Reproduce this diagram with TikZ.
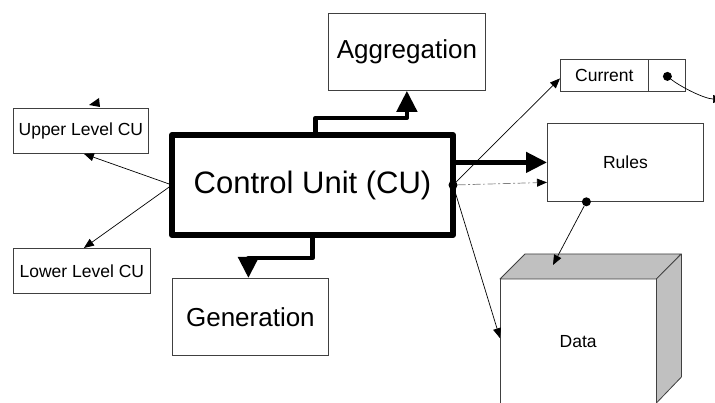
\documentclass[tikz,border=0pt]{standalone}
\usepackage{fontspec}
\setmainfont{Liberation Sans}
\usetikzlibrary{arrows.meta}
\definecolor{edge}{HTML}{404040}
\definecolor{shade}{HTML}{C0C0C0}
\newcommand{\fsz}[1]{\fontsize{#1}{#1}\selectfont}
\begin{document}
\begin{tikzpicture}[x=1pt,y=-1pt,
  box/.style={draw=edge, line width=0.8pt, fill=white, anchor=north west, inner sep=0pt, align=center},
  cubox/.style={draw=black, line width=6pt, line join=round, anchor=north west, inner sep=0pt, outer sep=0pt},
  thin arrow/.style={draw=black, line width=0.7pt, -{Triangle[length=10pt,width=8pt]}},
  bigarrow/.style={draw=black, line width=4.5pt, line join=round, -{Triangle[length=21pt,width=20pt]}},
  dashline/.style={draw=gray, line width=0.7pt, dash pattern=on 8pt off 2.5pt on 2pt off 2.5pt,
     -{Triangle[length=10pt,width=8pt,fill=black,color=black]}},
  dot/.style={circle, fill=black, inner sep=0pt, minimum size=9pt}]
\useasboundingbox (0,0) rectangle (715,403);
\fill[white] (0,0) rectangle (715,403);

% main boxes
\node[cubox, minimum width=281pt, minimum height=100pt] (cu) at (172,135) {\fsz{31}Control Unit (CU)};
\node[box, minimum width=135pt, minimum height=45pt] (upper) at (13,108) {\fsz{17.5}Upper Level CU};
\node[box, minimum width=137pt, minimum height=45pt] (lower) at (13,248) {\fsz{17.5}Lower Level CU};
\node[box, minimum width=157pt, minimum height=77pt] (agg) at (328,13) {\fsz{26}Aggregation};
\node[box, minimum width=156pt, minimum height=77pt] (gen) at (172,278) {\fsz{26}Generation};
\node[box, minimum width=88pt, minimum height=32pt] (cur) at (560,59) {\fsz{17.5}Current};
\node[box, minimum width=37pt, minimum height=32pt] (curp) at (648,59) {};
\node[box, minimum width=156pt, minimum height=78pt] (rules) at (547,123) {\fsz{17.5}Rules};

% data store drawn as an open box
\node[anchor=north west, minimum width=156pt, minimum height=124pt, inner sep=0pt] (data) at (500,279) {\fsz{17.5}Data};
\filldraw[fill=shade, draw=edge, line width=0.8pt, line join=round]
  (data.north west) -- ++(25,-25) -- ++(156,0) -- (data.north east) -- cycle;
\filldraw[fill=shade, draw=edge, line width=0.8pt, line join=round]
  (data.north east) -- ++(25,-25) -- ++(0,123) -- ++(-25,26) -- cycle;
\draw[edge, line width=0.8pt] (data.south west) -- (data.north west) (data.north east) -- (data.south east);

% junction points
\node[dot] (hub) at (cu.east) {};
\node[dot] (rdot) at ([xshift=-39pt]rules.south) {};
\node[dot] (cdot) at ([xshift=0.5pt,yshift=-1pt]curp.center) {};
\coordinate (curend) at (723,99);

% connectors
\draw[thin arrow] (cu.west) -- ([xshift=3pt]upper.south);
\draw[thin arrow] (cu.west) -- ([xshift=2pt]lower.north);
\fill (89,105) -- (99,98) -- (100,107) -- cycle;
\draw[bigarrow] ([xshift=3pt]cu.north) |- ([yshift=-27pt]agg.south) -- (agg.south);
\draw[bigarrow] (cu.south) |- ([xshift=-2pt,yshift=20pt]gen.north) -- ([xshift=-2pt]gen.north);
\draw[bigarrow] (cu.east |- rules.west) -- (rules.west);
\draw[thin arrow] (hub) -- ([yshift=-3pt]cur.west);
\draw[dashline] (hub) -- ([yshift=-20pt]rules.west);
\draw[thin arrow] (hub) -- ([yshift=3pt]data.west);
\draw[thin arrow] (rdot) -- ([xshift=53pt,yshift=14pt]data.north west);
\draw[thin arrow] (cdot) .. controls +(14,11) and +(-18,0) .. (curend);
\end{tikzpicture}
\end{document}
